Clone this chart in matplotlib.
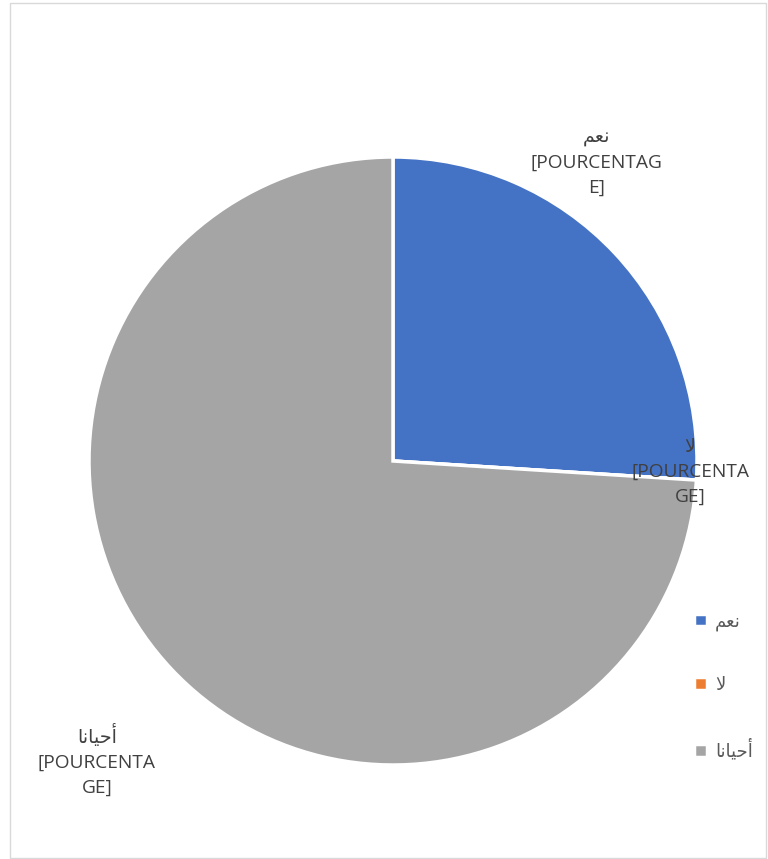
import matplotlib
matplotlib.use("Agg")
import matplotlib.pyplot as plt
from matplotlib.patches import Rectangle

plt.rcParams['font.family'] = ['Open Sans', 'DejaVu Sans']

# Categories (Arabic, in display-ordered presentation forms) and values
categories = ["\uFEE2\uFECC\uFEE7",                       # نعم
              "\uFEFB",                                    # لا
              "\uFE8E\uFEE7\uFE8E\uFEF4\uFEA3\uFE83"]      # أحيانا
values = [26, 0, 74]
colors = ["#4472C4", "#ED7D31", "#A5A5A5"]
label_text = ["[POURCENTAG\nE]", "[POURCENTA\nGE]", "[POURCENTA\nGE]"]

W, H = 768, 859
fig = plt.figure(figsize=(W / 100, H / 100), dpi=100)

# chart area frame
fig.patches.append(Rectangle((10 / W, 1 - 858 / H), 756 / W, 855 / H,
                             transform=fig.transFigure, fill=False,
                             edgecolor="#D9D9D9", linewidth=1.0))

cx, cy, r = 393, 461, 304
ax = fig.add_axes([(cx - r) / W, (H - cy - r) / H, 2 * r / W, 2 * r / H])
wedges, _ = ax.pie(values, colors=colors, startangle=90, counterclock=False,
                   radius=1.0,
                   wedgeprops=dict(edgecolor="white", linewidth=2.5))
ax.set_xlim(-1, 1)
ax.set_ylim(-1, 1)
ax.set_aspect("equal")
ax.axis("off")

# data-label positions (pie units)
label_pos = [(0.67, 0.98), (0.977, -0.035), (-0.974, -0.985)]
for name, txt, (x, y) in zip(categories, label_text, label_pos):
    ax.text(x, y, name + "\n" + txt, ha="center", va="center",
            fontsize=13.8, color="#404040", linespacing=1.5)

leg = fig.legend(wedges, categories, loc="upper left",
                 bbox_to_anchor=(678 / W, 1 - 596 / H), frameon=False,
                 handlelength=0.7, handleheight=0.7, handletextpad=0.45,
                 labelspacing=2.5, fontsize=13)
for t in leg.get_texts():
    t.set_color("#595959")

fig.savefig("out.png", dpi=100)
